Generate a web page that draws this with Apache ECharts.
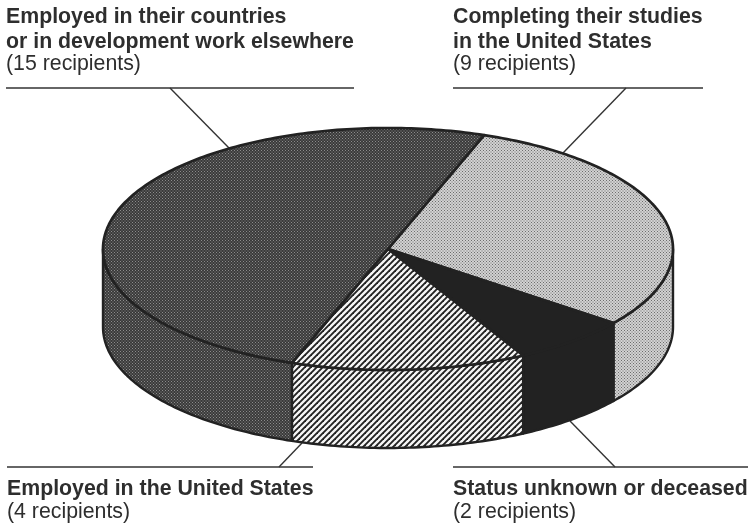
<!DOCTYPE html>
<html><head><meta charset="utf-8">
<style>html,body{margin:0;padding:0;background:#fff}#c{width:752px;height:526px}</style>
<script src="https://cdn.jsdelivr.net/npm/echarts@6/dist/echarts.min.js"></script>
</head><body><div id="c"></div>
<script>
const categories = ['Completing their studies\nin the United States','Status unknown or deceased','Employed in the United States','Employed in their countries\nor in development work elsewhere'];
const recipients = [9, 2, 4, 15];

const START = 19.7, CX = 388, CY = 249, RX = 285, RY = 121, DEPTH = 78;

function tile(size, draw){
  const c = document.createElement('canvas'); c.width = c.height = size;
  draw(c.getContext('2d')); return c;
}
const darkTile = tile(3, g => { g.fillStyle='#3a3a3a'; g.fillRect(0,0,3,3); g.fillStyle='#8c8c8c'; g.fillRect(0,0,1,1); g.fillRect(1.5,1.5,1,1); });
const lightTile = tile(3, g => { g.fillStyle='#d2d2d2'; g.fillRect(0,0,3,3); g.fillStyle='#6c6c6c'; g.fillRect(0,0,1,1); g.fillRect(1.5,1.5,1,1); });
const hatchTile = tile(6, g => {
  g.fillStyle='#f6f6f6'; g.fillRect(0,0,6,6);
  g.strokeStyle='#222'; g.lineWidth=1.9;
  [[-3,3,3,-3],[0,6,6,0],[3,9,9,3]].forEach(l => { g.beginPath(); g.moveTo(l[0],l[1]); g.lineTo(l[2],l[3]); g.stroke(); });
});
const fills = [{image:lightTile,repeat:'repeat'}, '#222', {image:hatchTile,repeat:'repeat'}, {image:darkTile,repeat:'repeat'}];

const total = recipients.reduce((a,b)=>a+b,0);
let acc = 0;
const rows = recipients.map(v => { const r=[acc,v]; acc+=v; return r; });

function pt(a, dy){ const t=a*Math.PI/180; return [CX+RX*Math.sin(t), CY-RY*Math.cos(t)+(dy||0)]; }
function arc(a0,a1,dy){ const o=[]; const n=Math.max(2,Math.ceil(Math.abs(a1-a0))); for(let i=0;i<=n;i++) o.push(pt(a0+(a1-a0)*i/n,dy)); return o; }

const stroke = '#222';
function renderItem(params, api){
  const a0 = START + api.value(0)/total*360, a1 = a0 + api.value(1)/total*360;
  const kids = [];
  const w0 = Math.max(a0,90), w1 = Math.min(a1,270);
  if (w1 > w0) {
    const pts = arc(w0,w1,0).concat(arc(w1,w0,DEPTH));
    kids.push({type:'polygon',shape:{points:pts},style:{fill:fills[params.dataIndex],stroke,lineWidth:2.4,lineJoin:'round'}});
  }
  const top = [[CX,CY]].concat(arc(a0,a1,0));
  kids.push({type:'polygon',shape:{points:top},style:{fill:fills[params.dataIndex],stroke,lineWidth:2.7,lineJoin:'round'}});
  return {type:'group',children:kids};
}

const textStyle = {fontFamily:'"Liberation Sans"',fontSize:21.3,fill:'#2e2e2e'};
function label(x,y,cat,n){
  return [
    {type:'text',x,y,style:{...textStyle,text:cat,fontWeight:'bold',lineHeight:24.5,textVerticalAlign:'top'}},
    {type:'text',x,y:y+(cat.split('\n').length)*24.5,style:{...textStyle,text:'('+n+' recipients)',textVerticalAlign:'top'}}
  ];
}
function line(x1,y1,x2,y2){ return {type:'line',shape:{x1,y1,x2,y2},style:{stroke:'#333',lineWidth:1.4}}; }

const chart = echarts.init(document.getElementById('c'),null,{renderer:'canvas'});
chart.setOption({
  animation:false,
  backgroundColor:'#fff',
  series:[{type:'custom',coordinateSystem:'none',silent:true,data:rows,renderItem,z:1}],
  graphic:[
    ...label(6,5,categories[3],recipients[3]),
    ...label(453,5,categories[0],recipients[0]),
    ...label(7,477,categories[2],recipients[2]),
    ...label(453,477,categories[1],recipients[1]),
    line(6,88,354,88), line(170,88,229,148),
    line(453,88,703,88), line(626,88,563,153),
    line(7,467,313,467), line(279,467,302,443),
    line(453,467,748,467), line(615,467,570,421)
  ]
});
</script></body></html>
